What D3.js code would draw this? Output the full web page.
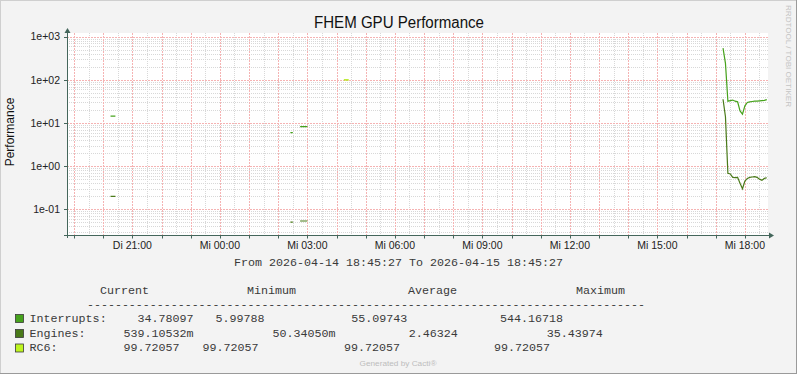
<!DOCTYPE html>
<html><head><meta charset="utf-8">
<script src="https://cdn.jsdelivr.net/npm/d3@7"></script>
<style>body{margin:0;background:#fff}svg{display:block}</style>
</head><body><svg id="c" width="797" height="374"></svg>
<script>
// ---------------- data ----------------
const chartTitle = "FHEM GPU Performance";
const yAxisLabel = "Performance";
const startTime = "2026-04-14 18:45:27";
const endTime = "2026-04-15 18:45:27";
const dateLine = "From 2026-04-14 18:45:27 To 2026-04-15 18:45:27";
const yTickValues = [0.1, 1, 10, 100, 1000];
const yTickLabels = ["1e-01", "1e+00", "1e+01", "1e+02", "1e+03"];
const xTickTimes = ["2026-04-14 21:00", "2026-04-15 00:00", "2026-04-15 03:00", "2026-04-15 06:00",
  "2026-04-15 09:00", "2026-04-15 12:00", "2026-04-15 15:00", "2026-04-15 18:00"];
const xTickLabels = ["Di 21:00", "Mi 00:00", "Mi 03:00", "Mi 06:00", "Mi 09:00", "Mi 12:00", "Mi 15:00", "Mi 18:00"];

const seriesNames = ["Interrupts:", "Engines:", "RC6:"];
const seriesColors = ["#46A21C", "#4A7A19", "#BEF51F"];

const rightTimes = ["17:15","17:20","17:25","17:30","17:35","17:40","17:45","17:50","17:55","18:00",
  "18:05","18:10","18:15","18:20","18:25","18:30","18:35","18:40","18:45"].map(t => "2026-04-15 " + t);

const interruptsTimes = ["2026-04-14 20:15", "2026-04-14 20:25", "2026-04-14 20:30",
  "2026-04-15 02:25", "2026-04-15 02:30", "2026-04-15 02:35",
  "2026-04-15 02:45", "2026-04-15 02:50", "2026-04-15 02:55", "2026-04-15 03:00", "2026-04-15 03:05"].concat(rightTimes);
const interruptsValues = [14.5, 14.5, null,
  6.0, 6.0, null,
  8.2, 8.2, 8.2, 8.2, null,
  544, 241, 32, 33, 34, 32, 31, 19, 16, 25, 30, 31, 31.5, 32, 32, 32.5, 33, 33.5, 34.78];

const enginesTimes = interruptsTimes.slice();
const enginesValues = [0.2, 0.2, null,
  0.0503, 0.0503, null,
  0.0536, 0.0536, 0.0536, 0.0536, null,
  35.44, 14, 0.68, 0.66, 0.55, 0.54, 0.55, 0.40, 0.30, 0.45, 0.52, 0.55, 0.56, 0.57, 0.55, 0.50, 0.47, 0.52, 0.539];

const rc6Times = ["2026-04-15 04:15", "2026-04-15 04:20", "2026-04-15 04:25"];
const rc6Values = [99.72, 99.72, 99.72];

const legendHeaders = ["Current", "Minimum", "Average", "Maximum"];
const legendCurrent = ["34.78097", "539.10532m", "99.72057"];
const legendMinimum = ["5.99788", "50.34050m", "99.72057"];
const legendAverage = ["55.09743", "2.46324", "99.72057"];
const legendMaximum = ["544.16718", "35.43974", "99.72057"];

// ---------------- drawing ----------------
const W = 797, H = 374;
const parseFull = d3.utcParse("%Y-%m-%d %H:%M:%S");
const parseMin = d3.utcParse("%Y-%m-%d %H:%M");
const svg = d3.select("#c");
const SANS = "'Liberation Sans', Arial, sans-serif";
const MONO = "'Liberation Mono', 'DejaVu Sans Mono', monospace";

svg.append("rect").attr("width", W).attr("height", H).attr("fill", "#f3f3f3");
svg.append("line").attr("x1", 0).attr("x2", W).attr("y1", 0.5).attr("y2", 0.5).attr("stroke", "#cfcfcf");
svg.append("line").attr("x1", 0.5).attr("x2", 0.5).attr("y1", 0).attr("y2", H).attr("stroke", "#cfcfcf");
svg.append("line").attr("x1", 0).attr("x2", W).attr("y1", H - 0.5).attr("y2", H - 0.5).attr("stroke", "#9a9a9a");
svg.append("line").attr("x1", W - 0.5).attr("x2", W - 0.5).attr("y1", 0).attr("y2", H).attr("stroke", "#9a9a9a");

const plot = {l: 67, r: 767, t: 33, b: 235};
const t0 = parseFull(startTime), t1 = parseFull(endTime);
const x = d3.scaleUtc().domain([t0, t1]).range([plot.l, plot.r]);
const y = d3.scaleLog().domain([Math.pow(10, -1.5956), Math.pow(10, 3.0857)]).range([plot.b, plot.t]);

svg.append("rect").attr("x", plot.l).attr("y", plot.t).attr("width", plot.r - plot.l + 1).attr("height", plot.b - plot.t).attr("fill", "#ffffff");

const grid = svg.append("g");
const px = v => Math.round(v) + 0.5;
const [ylo, yhi] = y.domain();
const minorY = [], majorY = [];
for (let e = -3; e <= 4; e++) {
  for (let m = 1; m <= 9; m++) {
    const v = m * Math.pow(10, e);
    if (v < ylo || v > yhi) continue;
    (m === 1 ? majorY : minorY).push(v);
  }
}
const majorX = d3.utcHour.range(t0, t1);
const minorX = d3.utcMinute.every(30).range(t0, t1).filter(d => d.getUTCMinutes() === 30);

const minorStyle = s => s.attr("stroke", "#d8d8d8").attr("stroke-width", 1).attr("stroke-dasharray", "1,1");
const majorStyle = s => s.attr("stroke", "#f5b3b3").attr("stroke-width", 1).attr("stroke-dasharray", "2,1");

grid.selectAll(".mny").data(minorY).join("line")
  .attr("x1", plot.l).attr("x2", plot.r + 1).attr("y1", d => px(y(d))).attr("y2", d => px(y(d))).call(minorStyle);
grid.selectAll(".mnx").data(minorX).join("line")
  .attr("x1", d => px(x(d))).attr("x2", d => px(x(d))).attr("y1", plot.t).attr("y2", plot.b).call(minorStyle);
grid.selectAll(".mjy").data(majorY).join("line")
  .attr("x1", plot.l).attr("x2", plot.r + 1).attr("y1", d => px(y(d))).attr("y2", d => px(y(d))).call(majorStyle);
grid.selectAll(".mjx").data(majorX).join("line")
  .attr("x1", d => px(x(d))).attr("x2", d => px(x(d))).attr("y1", plot.t).attr("y2", plot.b).call(majorStyle);

// series lines
function toPoints(times, values) {
  return times.map((t, i) => ({t: parseMin(t), v: values[i]}));
}
const line = d3.line().defined(d => d.v != null).x(d => x(d.t)).y(d => y(d.v));
const series = [
  toPoints(interruptsTimes, interruptsValues),
  toPoints(enginesTimes, enginesValues),
  toPoints(rc6Times, rc6Values)
];
series.forEach((pts, i) => {
  svg.append("path").datum(pts).attr("d", line).attr("fill", "none")
    .attr("stroke", i === 2 ? "#B4E81A" : seriesColors[i]).attr("stroke-width", i === 2 ? 1.5 : 1.2);
});

// axes
const axisColor = "#44665b";
const xAxis = d3.axisBottom(x).tickValues(majorX).tickSize(3).tickFormat("");
const xg = svg.append("g").attr("transform", `translate(0,${plot.b + 0.5})`).call(xAxis);
xg.select(".domain").remove();
xg.selectAll(".tick").attr("transform", d => `translate(${px(x(d))},0)`);
xg.selectAll("line").attr("stroke", axisColor);

svg.append("line").attr("x1", plot.l - 3).attr("x2", plot.r + 2).attr("y1", plot.b + 0.5).attr("y2", plot.b + 0.5).attr("stroke", axisColor);
svg.append("line").attr("x1", plot.l + 0.5).attr("x2", plot.l + 0.5).attr("y1", plot.b + 3).attr("y2", plot.t - 1).attr("stroke", axisColor);
svg.append("path").attr("d", `M${plot.l + 0.5},${plot.t - 5} L${plot.l - 2.5},${plot.t} L${plot.l + 3.5},${plot.t} Z`).attr("fill", axisColor);
svg.append("path").attr("d", `M${plot.r + 7},${plot.b + 0.5} L${plot.r + 2},${plot.b - 2.5} L${plot.r + 2},${plot.b + 3.5} Z`).attr("fill", axisColor);

// y ticks
svg.selectAll(".yt").data(yTickValues).join("line")
  .attr("x1", plot.l - 3).attr("x2", plot.l).attr("y1", d => px(y(d))).attr("y2", d => px(y(d))).attr("stroke", axisColor);
svg.selectAll(".ytl").data(yTickValues).join("text")
  .attr("x", 60).attr("y", d => y(d) + 3.8).attr("text-anchor", "end")
  .attr("font-family", SANS).attr("font-size", 10.5).attr("fill", "#222")
  .text((d, i) => yTickLabels[i]);

// x tick labels
svg.selectAll(".xtl").data(xTickTimes).join("text")
  .attr("x", d => x(parseMin(d))).attr("y", 248.5).attr("text-anchor", "middle")
  .attr("font-family", SANS).attr("font-size", 10.5).attr("fill", "#222")
  .text((d, i) => xTickLabels[i]);

// title & labels
svg.append("text").attr("x", 399).attr("y", 28.3).attr("text-anchor", "middle")
  .attr("font-family", SANS).attr("font-size", 16).attr("fill", "#111")
  .attr("textLength", 170).attr("lengthAdjust", "spacingAndGlyphs").text(chartTitle);
svg.append("text").attr("transform", "translate(14,132) rotate(-90)").attr("text-anchor", "middle")
  .attr("font-family", SANS).attr("font-size", 12).attr("fill", "#111").text(yAxisLabel);
svg.append("text").attr("transform", "translate(785.5,5) rotate(90)").attr("text-anchor", "start")
  .attr("font-family", SANS).attr("font-size", 7.5).attr("fill", "#c4c4c4")
  .attr("textLength", 102).attr("lengthAdjust", "spacingAndGlyphs").text("RRDTOOL / TOBI OETIKER");

const mono = (sel) => sel.attr("font-family", MONO).attr("font-size", 11.7).attr("fill", "#3a3a3a").style("white-space", "pre");
svg.append("text").attr("x", 234).attr("y", 266).call(mono)
  .attr("textLength", 329).attr("lengthAdjust", "spacingAndGlyphs").text(dateLine);

// legend
const headerX = [100, 247, 408, 576];
svg.selectAll(".lh").data(legendHeaders).join("text")
  .attr("x", (d, i) => headerX[i]).attr("y", 293.5).call(mono).text(d => d);
svg.append("text").attr("x", 87).attr("y", 307.5).call(mono).attr("font-size", 10)
  .attr("textLength", 558).attr("lengthAdjust", "spacingAndGlyphs").text("-".repeat(80));

const rowY = [321.7, 336.7, 351.2];
const colX = [[137.5, 215.5, 351.2, 500], [123.5, 272.5, 408.7, 546.7], [123.5, 202.5, 344, 494]];
const cols = [legendCurrent, legendMinimum, legendAverage, legendMaximum];
seriesNames.forEach((name, i) => {
  svg.append("rect").attr("x", 15.5).attr("y", rowY[i] - 7.2).attr("width", 8).attr("height", 8)
    .attr("fill", seriesColors[i]).attr("stroke", "#3a3a3a").attr("stroke-width", 0.8);
  svg.append("text").attr("x", 29.5).attr("y", rowY[i]).call(mono).text(name);
  cols.forEach((c, j) => {
    svg.append("text").attr("x", colX[i][j]).attr("y", rowY[i]).call(mono).text(c[i]);
  });
});

svg.append("text").attr("x", 398).attr("y", 366).attr("text-anchor", "middle")
  .attr("font-family", SANS).attr("font-size", 7.5).attr("fill", "#bdbdbd")
  .attr("textLength", 77).attr("lengthAdjust", "spacingAndGlyphs").text("Generated by Cacti®");
</script>
</body></html>
